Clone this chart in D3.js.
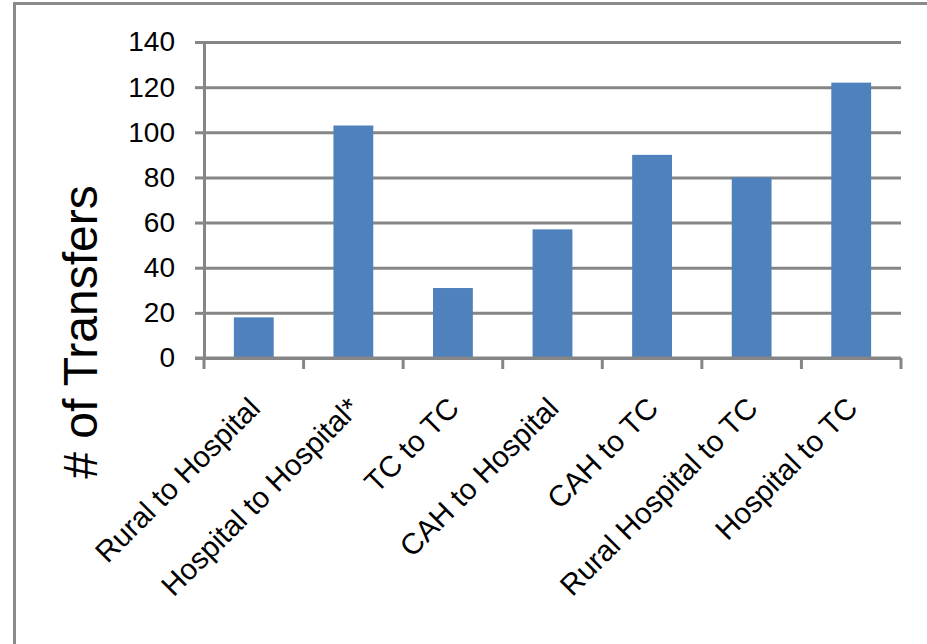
<!DOCTYPE html>
<html>
<head>
<meta charset="utf-8">
<script src="https://cdn.jsdelivr.net/npm/d3@7"></script>
<style>
  body { margin: 0; background: #fff; }
  svg { display: block; font-family: "Liberation Sans", Arial, sans-serif; }
</style>
</head>
<body>
<svg id="chart"></svg>
<script>
// chart values
const categories = ["Rural to Hospital", "Hospital to Hospital*", "TC to TC", "CAH to Hospital",
                    "CAH to TC", "Rural Hospital to TC", "Hospital to TC"];
const transfers = [18, 103, 31, 57, 90, 80, 122];
const yTicks = [0, 20, 40, 60, 80, 100, 120, 140];
const yLabel = "# of Transfers";

const config = {
  width: 927,
  height: 644,
  margin: { top: 42, left: 204, right: 26, bottom: 286 }
};
const lineColor = "#868686";
const barColor = "#4f81bd";

const width = config.width - config.margin.left - config.margin.right;
const height = config.height - config.margin.top - config.margin.bottom;

const svg = d3.select("#chart")
    .attr("width", config.width)
    .attr("height", config.height);

// outer frame (runs off the right and bottom edges)
svg.append("rect")
    .attr("x", 14.5).attr("y", 3.5)
    .attr("width", 1000).attr("height", 1000)
    .attr("fill", "none")
    .attr("stroke", "#8a8a8a")
    .attr("stroke-width", 3);

const chart = svg.append("g")
    .attr("transform", `translate(${config.margin.left},${config.margin.top})`);

const xScale = d3.scaleBand()
    .domain(categories)
    .range([0, width])
    .paddingInner(0.6)
    .paddingOuter(0.3);

const yScale = d3.scaleLinear()
    .domain([0, 140])
    .range([height, 0]);

// gridlines
chart.append("g")
    .attr("class", "grid")
    .call(d3.axisLeft(yScale).tickValues(yTicks).tickSize(-width).tickFormat(""))
    .call(g => g.select(".domain").remove())
    .call(g => g.selectAll("line").attr("stroke", lineColor).attr("stroke-width", 3));

// y axis
chart.append("g")
    .attr("class", "y-axis")
    .call(d3.axisLeft(yScale).tickValues(yTicks).tickSize(9).tickPadding(20).tickSizeOuter(0))
    .call(g => g.select(".domain").attr("stroke", lineColor).attr("stroke-width", 3))
    .call(g => g.selectAll(".tick line").attr("stroke", lineColor).attr("stroke-width", 3))
    .call(g => g.selectAll("text")
        .attr("font-size", 28)
        .attr("fill", "#000")
        .attr("font-family", "Liberation Sans, Arial, sans-serif"));

// bars
chart.selectAll("rect.bar")
  .data(categories)
  .join("rect")
    .attr("class", "bar")
    .attr("x", d => xScale(d))
    .attr("y", (d, i) => yScale(transfers[i]))
    .attr("width", xScale.bandwidth())
    .attr("height", (d, i) => height - yScale(transfers[i]))
    .attr("fill", barColor);

// x axis: tick marks sit on the band boundaries
const gap = (xScale.step() - xScale.bandwidth()) / 2;
const boundaries = categories.map(d => xScale(d) - gap).concat([width]);

const xAxisG = chart.append("g")
    .attr("class", "x-axis")
    .attr("transform", `translate(0,${height})`);

xAxisG.append("line")
    .attr("x1", -9).attr("x2", width)
    .attr("stroke", lineColor).attr("stroke-width", 3);

xAxisG.selectAll("line.tick")
  .data(boundaries)
  .join("line")
    .attr("class", "tick")
    .attr("x1", d => d).attr("x2", d => d)
    .attr("y1", 0).attr("y2", 11)
    .attr("stroke", lineColor).attr("stroke-width", 3);

xAxisG.selectAll("text")
  .data(categories)
  .join("text")
    .attr("text-anchor", "end")
    .attr("font-size", 29.5)
    .attr("fill", "#000")
    .attr("transform", d => `translate(${xScale(d) + xScale.bandwidth() / 2 + 8},52) rotate(-45)`)
    .text(d => d);

// y axis title
svg.append("text")
    .attr("transform", `translate(97,${config.margin.top + 290}) rotate(-90)`)
    .attr("text-anchor", "middle")
    .attr("font-size", 48)
    .attr("fill", "#000")
    .text(yLabel);
</script>
</body>
</html>
